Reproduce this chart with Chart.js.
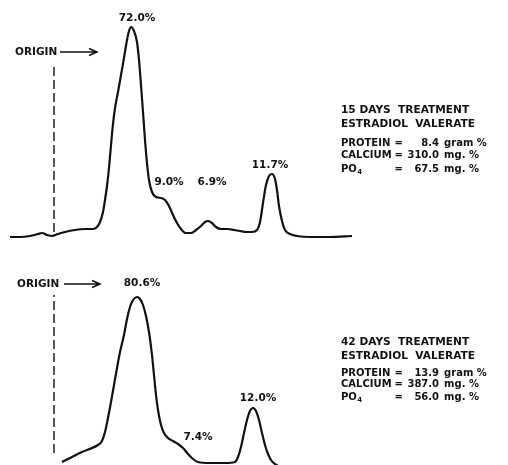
<!DOCTYPE html>
<html>
<head>
<meta charset="utf-8">
<script src="https://cdn.jsdelivr.net/npm/chart.js@4.4.1/dist/chart.umd.min.js"></script>
<style>
  html, body { margin: 0; padding: 0; background: #fff; }
  #wrap { position: relative; width: 508px; height: 465px; overflow: hidden; }
  .panel { position: absolute; left: 0; width: 508px; }
</style>
</head>
<body>
<div id="wrap">
  <div class="panel" style="top:0;height:250px"><canvas id="topTrace"></canvas></div>
  <div class="panel" style="top:250px;height:215px"><canvas id="botTrace"></canvas></div>
</div>
<script>
/* ========= Datos (leídos del densitograma) ========= */
// distancia de migración (unidades arbitrarias) y densidad óptica sobre la línea base
const topDist = [10, 20, 30, 38, 42, 47, 52, 58, 65, 75, 85, 93, 97, 100, 103, 105, 107, 109, 111, 113,
  115, 118, 121, 124, 127, 129, 131, 134, 137, 139, 141, 143, 145, 147, 149, 152, 156, 161, 165, 169,
  173, 177, 181, 186, 191, 196, 201, 205, 208, 212, 216, 221, 228, 234, 240, 246, 252, 257, 260, 263,
  266, 269, 272, 275, 277, 279, 282, 285, 290, 297, 310, 330, 352];
const topDensity = [0, 0, 1, 3, 4, 2, 1, 3, 5, 7, 8, 8, 10, 15, 25, 37, 51, 69, 92, 113,
  129, 145, 162, 179, 197, 206, 210, 206, 195, 177, 152, 125, 97, 74, 57, 45, 40, 39, 37, 31,
  22, 14, 8, 4, 4, 7, 11, 15, 16, 14, 10, 8, 8, 7, 6, 5, 5, 7, 15, 34,
  52, 61, 63, 58, 47, 31, 16, 7, 3, 1, 0, 0, 1];

const botDist = [62, 72, 82, 92, 98, 102, 105, 108, 111, 114, 117, 120, 124, 127, 130, 133, 137, 140, 143, 146,
  149, 152, 154, 156, 158, 161, 164, 168, 173, 178, 183, 188, 193, 198, 210, 225, 235, 238, 241, 244,
  247, 250, 253, 256, 259, 262, 265, 268, 271, 275, 280];
const botDensity = [0, 5, 10, 14, 17, 21, 30, 44, 60, 77, 94, 110, 127, 143, 155, 162, 165, 163, 157, 146,
  130, 107, 87, 67, 52, 37, 29, 24, 21, 18, 14, 8, 3, 0, -1, -1, 0, 5, 15, 29,
  42, 51, 54, 51, 42, 29, 17, 8, 2, -2, -5];

const originDist = 54;
const topOriginSpan = [5, 172];
const botOriginSpan = [9, 167];

const topFractions = [72.0, 9.0, 6.9, 11.7];
const botFractions = [80.6, 7.4, 12.0];

const treatmentDays = [15, 42];
const proteinGram = [8.4, 13.9];
const calciumMg = [310.0, 387.0];
const phosphateMg = [67.5, 56.0];

/* ========= Layout (no son datos) ========= */
const topLabelAt = [[137, 219], [169, 55], [212, 55], [270, 72]];
const botLabelAt = [[142, 179], [198, 25], [258, 64]];
const INK = '#111';
const FAM = '"DejaVu Sans", sans-serif';
const LABEL_FONT = 'bold 10.5px ' + FAM;
const TITLE_FONT = 'bold 10.6px ' + FAM;
const BLOCK_FONT = 'bold 10px ' + FAM;

const pts = (xs, ys) => xs.map((x, i) => ({ x, y: ys[i] }));

function makeTrace(canvasId, dist, dens, span, yRange, labels, labelAt, arrow, block) {
  const annot = {
    id: 'annot-' + canvasId,
    afterDatasetsDraw(chart) {
      const { ctx, scales: { x, y } } = chart;
      ctx.save();
      ctx.fillStyle = INK;
      ctx.strokeStyle = INK;
      ctx.textBaseline = 'middle';

      // porcentajes de cada fracción
      ctx.font = LABEL_FONT;
      ctx.textAlign = 'center';
      labels.forEach((v, i) => {
        const [lx, ly] = labelAt[i];
        ctx.fillText(v.toFixed(1) + '%', x.getPixelForValue(lx), y.getPixelForValue(ly));
      });

      // ORIGIN -->
      const yo = y.getPixelForValue(arrow.at);
      ctx.textAlign = 'left';
      ctx.fillText('ORIGIN', arrow.textX, yo);
      const x0 = arrow.from, x1 = arrow.to;
      ctx.lineWidth = 1.5;
      ctx.beginPath();
      ctx.moveTo(x0, yo); ctx.lineTo(x1, yo);
      ctx.moveTo(x1 - 8, yo - 3.5); ctx.lineTo(x1, yo); ctx.lineTo(x1 - 8, yo + 3.5);
      ctx.stroke();

      // bloque de texto
      const bx = 341, L = block.lines;
      ctx.font = TITLE_FONT;
      ctx.fillText(block.days + ' DAYS  TREATMENT', bx, L[0]);
      ctx.fillText('ESTRADIOL  VALERATE', bx, L[1]);
      ctx.font = BLOCK_FONT;
      const eqX = bx + ctx.measureText('CALCIUM').width + 3;
      const valR = eqX + ctx.measureText('= ').width + ctx.measureText('310.0').width + 1;
      const unitX = valR + 5;
      const rows = [['PROTEIN', block.protein.toFixed(1), 'gram %'],
                    ['CALCIUM', block.calcium.toFixed(1), 'mg. %'],
                    ['PO', block.po4.toFixed(1), 'mg. %']];
      rows.forEach((r, i) => {
        const ry = L[2 + i];
        ctx.textAlign = 'left';
        ctx.fillText(r[0], bx, ry);
        if (r[0] === 'PO') {
          const w = ctx.measureText('PO').width;
          ctx.font = 'bold 7px ' + FAM;
          ctx.fillText('4', bx + w + 0.5, ry + 3);
          ctx.font = BLOCK_FONT;
        }
        ctx.fillText('=', eqX, ry);
        ctx.textAlign = 'right';
        ctx.fillText(r[1], valR, ry);
        ctx.textAlign = 'left';
        ctx.fillText(r[2], unitX, ry);
      });
      ctx.restore();
    }
  };

  return new Chart(document.getElementById(canvasId), {
    type: 'line',
    data: {
      datasets: [
        {
          data: pts(dist, dens),
          borderColor: INK,
          borderWidth: 2.2,
          pointRadius: 0,
          cubicInterpolationMode: 'monotone',
          fill: false
        },
        {
          data: [{ x: originDist, y: span[0] }, { x: originDist, y: span[1] }],
          borderColor: INK,
          borderWidth: 1.4,
          borderDash: [9, 4],
          pointRadius: 0,
          fill: false
        }
      ]
    },
    options: {
      animation: false,
      responsive: true,
      maintainAspectRatio: false,
      layout: { padding: 0 },
      scales: {
        x: { type: 'linear', min: 0, max: 508, display: false },
        y: { type: 'linear', min: yRange[0], max: yRange[1], display: false }
      },
      plugins: { legend: { display: false }, tooltip: { enabled: false } }
    },
    plugins: [annot]
  });
}

makeTrace('topTrace', topDist, topDensity, topOriginSpan, [-13, 237], topFractions, topLabelAt,
  { at: 185, textX: 15, from: 60, to: 97 },
  { days: treatmentDays[0], protein: proteinGram[0], calcium: calciumMg[0], po4: phosphateMg[0],
    lines: [110, 124, 143, 155, 169] });

makeTrace('botTrace', botDist, botDensity, botOriginSpan, [-3, 212], botFractions, botLabelAt,
  { at: 178, textX: 17, from: 64, to: 100 },
  { days: treatmentDays[1], protein: proteinGram[1], calcium: calciumMg[1], po4: phosphateMg[1],
    lines: [92, 106, 123, 134, 147] });
</script>
</body>
</html>
